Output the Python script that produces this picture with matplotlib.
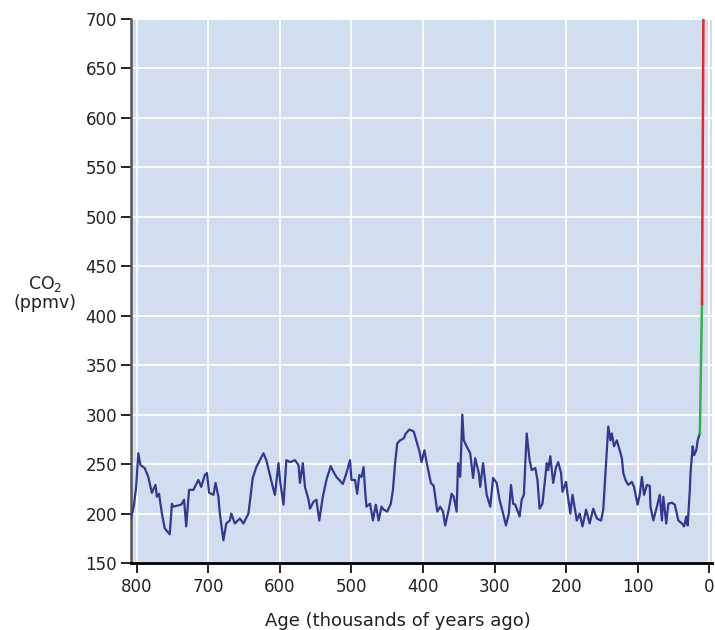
import matplotlib.pyplot as plt

# ice core record (thousands of years ago, ppmv)
edad = [809, 804, 801, 798, 795, 789, 784, 779, 774, 772, 769, 765, 761, 754, 751, 749,
        738, 734, 731, 727, 721, 714, 710, 705, 702, 699, 693, 690, 686, 684, 679, 675,
        670, 668, 663, 656, 651, 644, 638, 633, 623, 619, 610, 607, 602, 600, 595, 591,
        586, 579, 574, 572, 568, 565, 560, 558, 553, 549, 545, 540, 535, 529, 525, 521,
        512, 507, 502, 500, 495, 492, 489, 486, 483, 481, 479, 474, 470, 466, 462, 458,
        455, 450, 445, 442, 439, 436, 432, 427, 424, 419, 413, 409, 405, 402, 398, 395,
        389, 385, 380, 376, 372, 369, 364, 360, 357, 353, 351, 348, 345, 343, 339, 334,
        330, 327, 322, 320, 316, 311, 306, 302, 297, 293, 288, 284, 280, 277, 274, 271,
        265, 262, 259, 255, 251, 248, 243, 240, 237, 233, 229, 227, 225, 222, 220, 218,
        214, 211, 207, 205, 200, 198, 194, 191, 187, 185, 181, 177, 172, 167, 162, 157,
        151, 148, 144, 141, 138, 136, 133, 129, 125, 122, 120, 117, 113, 108, 105, 100,
        97, 94, 91, 87, 83, 82, 78, 73, 69, 66, 64, 60, 57, 52, 48, 43,
        38, 35, 32, 30, 27, 26, 23, 21, 18, 16, 13]
co2 = [192, 209, 227, 261, 249, 246, 237, 221, 229, 217, 220, 200, 185, 179, 210, 207,
       209, 214, 187, 224, 224, 234, 227, 239, 241, 221, 219, 231, 217, 200, 173, 190,
       193, 200, 190, 195, 190, 200, 236, 247, 261, 254, 227, 219, 251, 234, 209, 254,
       252, 254, 249, 231, 251, 227, 214, 205, 212, 214, 193, 217, 234, 248, 242, 237,
       230, 241, 254, 234, 234, 220, 239, 237, 247, 224, 207, 210, 193, 209, 193, 207,
       204, 202, 210, 224, 251, 271, 274, 276, 281, 285, 283, 273, 263, 252, 264, 252,
       231, 228, 202, 207, 202, 188, 204, 220, 217, 202, 251, 237, 300, 274, 268, 261,
       236, 256, 241, 227, 251, 219, 207, 236, 231, 214, 200, 188, 200, 229, 210, 209,
       197, 214, 219, 281, 254, 244, 246, 234, 205, 210, 237, 251, 244, 258, 244, 231,
       247, 252, 241, 222, 232, 220, 200, 219, 202, 193, 200, 187, 204, 190, 205, 195,
       193, 204, 251, 288, 274, 281, 268, 274, 264, 256, 241, 234, 229, 232, 227, 209,
       219, 237, 219, 229, 228, 207, 193, 207, 219, 193, 217, 190, 210, 211, 209, 193,
       190, 187, 197, 188, 224, 241, 268, 259, 264, 274, 281]

# recent rise and projection
edad_reciente = [13, 10]
co2_reciente = [281, 412]
edad_futuro = [10, 8]
co2_futuro = [412, 705]

fig = plt.figure(figsize=(7.15, 6.3), dpi=100)
ax = fig.add_axes([0.183, 0.1063, 0.813, 0.8635])
ax.set_facecolor("#D0DEF0")

ax.plot(edad, co2, color="#333891", lw=1.6, zorder=3)
ax.plot(edad_reciente, co2_reciente, color="#3AAE4F", lw=1.8, zorder=3)
ax.plot(edad_futuro, co2_futuro, color="#E8272A", lw=1.8, zorder=3)

ax.set_xlim(808.4, -4.2)
ax.set_ylim(150, 700)
ax.set_xticks(range(800, -1, -100))
ax.set_yticks(range(150, 701, 50))
ax.grid(True, color="white", lw=1.3)
ax.set_axisbelow(True)

for lado in ["top", "right"]:
    ax.spines[lado].set_visible(False)
ax.spines["left"].set_color("#555555")
ax.spines["left"].set_linewidth(1.8)
ax.spines["bottom"].set_color("black")
ax.spines["bottom"].set_linewidth(2)
ax.tick_params(axis="both", direction="out", length=7, width=1.2, labelsize=12,
               colors="black", labelcolor="#222222")
ax.tick_params(axis="y", pad=3)

ax.set_xlabel("Age (thousands of years ago)", fontsize=13, color="#222222")
ax.xaxis.set_label_coords(0.46, -0.09)
fig.text(0.063, 0.535, "CO$_2$\n(ppmv)", fontsize=12.5, color="#222222",
         ha="center", va="center", linespacing=1.0)

fig.savefig("out.png", dpi=100)
